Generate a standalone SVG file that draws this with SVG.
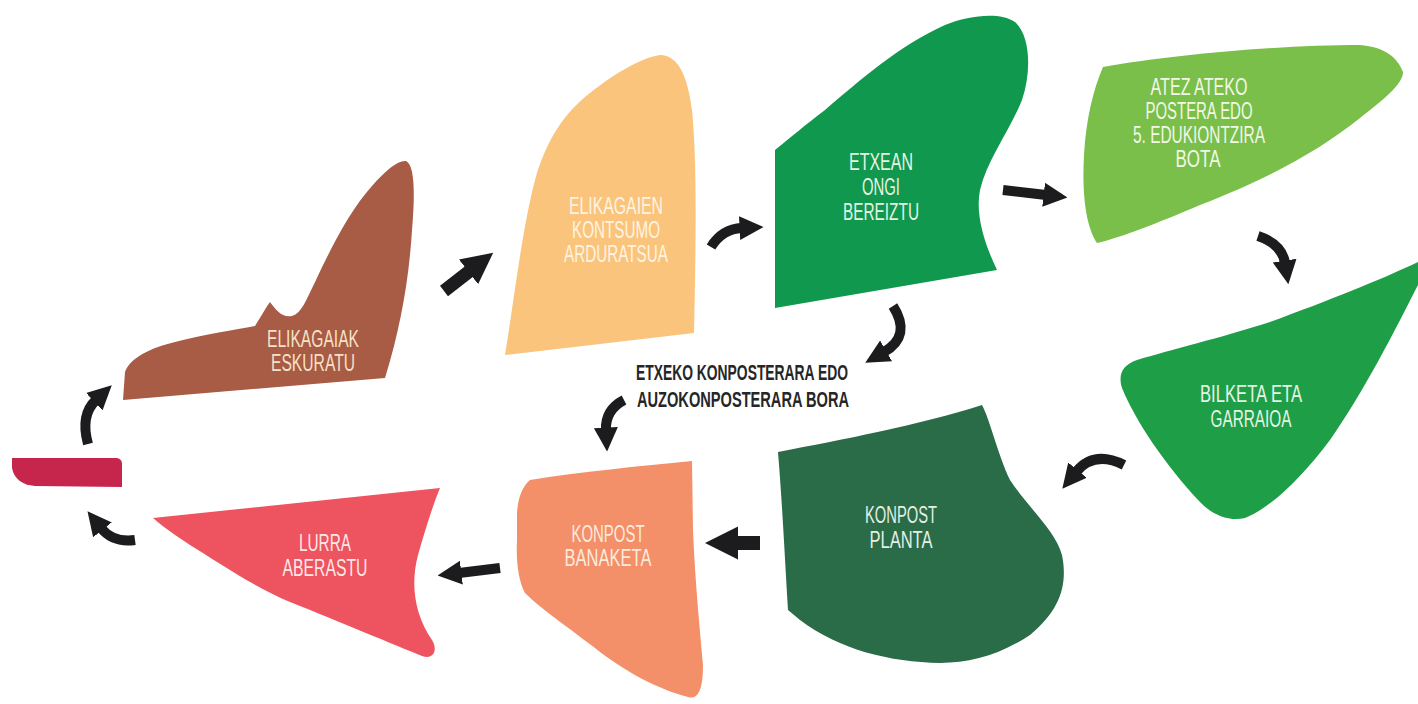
<svg xmlns="http://www.w3.org/2000/svg" width="1418" height="704" viewBox="0 0 1418 704">
<defs>
<style>
.lbl{font-family:"Liberation Sans",Arial,sans-serif;font-size:23px;text-anchor:middle}
.mid{font-family:"Liberation Sans",Arial,sans-serif;font-size:22px;font-weight:bold;text-anchor:middle;fill:#262626}
.arr{fill:none;stroke:#1c1c1e;stroke-linecap:butt;marker-end:url(#head)}
</style>
<marker id="head" viewBox="0 0 10 10" refX="1" refY="5" markerWidth="2.4" markerHeight="2.7" orient="auto" markerUnits="strokeWidth">
<path d="M0,0 L10,5 L0,10 Z" fill="#1c1c1e"/>
</marker>
</defs>
<rect width="1418" height="704" fill="#ffffff"/>

<g id="node-bar">
<path d="M12,458 L117,458 Q122,459 122,464 L122,487 L35,486 Q15,484 12,468 Z" fill="#C6264C"/>
</g>

<g id="node-eskuratu">
<path d="M123,400 L125,372 C130,358 150,348 175,342 C205,334 235,330 255,326 L258,321 C262,315 266,307 270,302 C276,310 282,318 292,316 C302,313 306,300 316,280 C330,250 350,210 372,186 C386,170 398,160 406,161 C415,165 415,195 412,230 C409,280 400,330 385,378 Z" fill="#A85B45"/>
<text class="lbl" fill="#F6E2C6"><tspan x="313" y="347" textLength="92" lengthAdjust="spacingAndGlyphs">ELIKAGAIAK</tspan><tspan x="313" y="371" textLength="84" lengthAdjust="spacingAndGlyphs">ESKURATU</tspan></text>
</g>

<g id="node-kontsumo">
<path d="M505,355 C514,300 522,230 535,180 C545,145 560,118 585,97 C612,75 640,58 660,55 C680,55 688,80 692,110 C697,160 696,240 694,333 Z" fill="#FAC47C"/>
<text class="lbl" fill="#FFF4E2"><tspan x="616" y="214" textLength="94" lengthAdjust="spacingAndGlyphs">ELIKAGAIEN</tspan><tspan x="616" y="238" textLength="88" lengthAdjust="spacingAndGlyphs">KONTSUMO</tspan><tspan x="616" y="262" textLength="104" lengthAdjust="spacingAndGlyphs">ARDURATSUA</tspan></text>
</g>

<g id="node-bereiztu">
<path d="M775,150 L775,308 L997,270 C985,245 975,215 980,190 C987,160 1010,130 1022,100 C1032,70 1030,35 1015,22 C1000,12 970,15 945,25 C900,45 860,80 825,110 C805,125 790,138 775,150 Z" fill="#10984E"/>
<text class="lbl" fill="#E6F4E4"><tspan x="881" y="170" textLength="64" lengthAdjust="spacingAndGlyphs">ETXEAN</tspan><tspan x="881" y="195" textLength="38" lengthAdjust="spacingAndGlyphs">ONGI</tspan><tspan x="881" y="220" textLength="76" lengthAdjust="spacingAndGlyphs">BEREIZTU</tspan></text>
</g>

<g id="node-bota">
<path d="M1103,67 C1170,55 1280,45 1360,45 C1385,47 1398,58 1403,72 C1403,82 1390,95 1360,118 C1320,150 1270,178 1200,205 C1160,222 1120,238 1097,243 C1085,225 1082,190 1084,155 C1086,120 1093,90 1103,67 Z" fill="#7BBF4B"/>
<text class="lbl" fill="#F2F8E6"><tspan x="1199" y="95" textLength="97" lengthAdjust="spacingAndGlyphs">ATEZ ATEKO</tspan><tspan x="1199" y="119" textLength="107" lengthAdjust="spacingAndGlyphs">POSTERA EDO</tspan><tspan x="1199" y="143" textLength="132" lengthAdjust="spacingAndGlyphs">5. EDUKIONTZIRA</tspan><tspan x="1198" y="167" textLength="45" lengthAdjust="spacingAndGlyphs">BOTA</tspan></text>
</g>

<g id="node-bilketa">
<path d="M1418,262 C1380,280 1330,300 1270,322 C1220,338 1170,350 1137,360 C1122,365 1118,375 1122,388 C1135,420 1165,465 1200,502 C1212,515 1230,522 1245,518 C1270,508 1300,480 1330,440 C1365,390 1395,330 1418,285 Z" fill="#1F9E48"/>
<text class="lbl" fill="#E6F4E4"><tspan x="1251" y="402" textLength="102" lengthAdjust="spacingAndGlyphs">BILKETA ETA</tspan><tspan x="1251" y="427" textLength="81" lengthAdjust="spacingAndGlyphs">GARRAIOA</tspan></text>
</g>

<g id="node-planta">
<path d="M778,452 C840,440 920,425 982,405 C990,420 998,455 1010,480 C1030,510 1055,530 1062,555 C1068,585 1060,610 1030,635 C1000,655 970,663 940,663 C890,662 840,650 800,620 L788,610 C785,560 782,500 778,452 Z" fill="#2A6B48"/>
<text class="lbl" fill="#E4F0E4"><tspan x="901" y="523" textLength="72" lengthAdjust="spacingAndGlyphs">KONPOST</tspan><tspan x="901" y="548" textLength="63" lengthAdjust="spacingAndGlyphs">PLANTA</tspan></text>
</g>

<g id="node-banaketa">
<path d="M530,480 C580,472 640,466 692,461 L693,530 C695,580 700,630 703,665 C703,690 698,700 688,697 C660,690 625,672 595,648 C565,625 540,608 525,593 C518,580 516,560 517,540 L517,513 C518,498 522,487 530,480 Z" fill="#F38F69"/>
<text class="lbl" fill="#FDEBDD"><tspan x="608" y="542" textLength="73" lengthAdjust="spacingAndGlyphs">KONPOST</tspan><tspan x="608" y="566" textLength="87" lengthAdjust="spacingAndGlyphs">BANAKETA</tspan></text>
</g>

<g id="node-lurra">
<path d="M153,518 L440,488 C433,505 425,530 418,555 C410,585 415,615 432,640 C438,650 434,660 422,656 C395,645 340,622 290,602 C250,585 215,560 190,545 C175,535 162,526 153,518 Z" fill="#EE5360"/>
<text class="lbl" fill="#FFE8E6"><tspan x="325" y="551" textLength="52" lengthAdjust="spacingAndGlyphs">LURRA</tspan><tspan x="325" y="576" textLength="85" lengthAdjust="spacingAndGlyphs">ABERASTU</tspan></text>
</g>

<g id="label-konposterara">
<text class="mid"><tspan x="742" y="380" textLength="212" lengthAdjust="spacingAndGlyphs">ETXEKO KONPOSTERARA EDO</tspan><tspan x="743" y="407" textLength="212" lengthAdjust="spacingAndGlyphs">AUZOKONPOSTERARA BORA</tspan></text>
</g>

<g id="connectors">
<path class="arr" d="M444,291 L471,270" stroke-width="13"/>
<path class="arr" d="M711,247 Q722,229 742,228" stroke-width="10"/>
<path class="arr" d="M1003,190 L1046,195" stroke-width="10"/>
<path class="arr" d="M1258,236 Q1282,244 1285,263" stroke-width="10"/>
<path class="arr" d="M1124,465 Q1094,450 1076,472" stroke-width="10"/>
<path class="arr" d="M760,543 L735,543" stroke-width="14"/>
<path class="arr" d="M500,568 L459,573" stroke-width="10"/>
<path class="arr" d="M135,540 Q113,543 101,528" stroke-width="10"/>
<path class="arr" d="M88,444 Q80,415 96,400" stroke-width="10"/>
<path class="arr" d="M893,306 Q912,336 884,352" stroke-width="10"/>
<path class="arr" d="M624,400 Q605,410 606,430" stroke-width="10"/>
</g>
</svg>
